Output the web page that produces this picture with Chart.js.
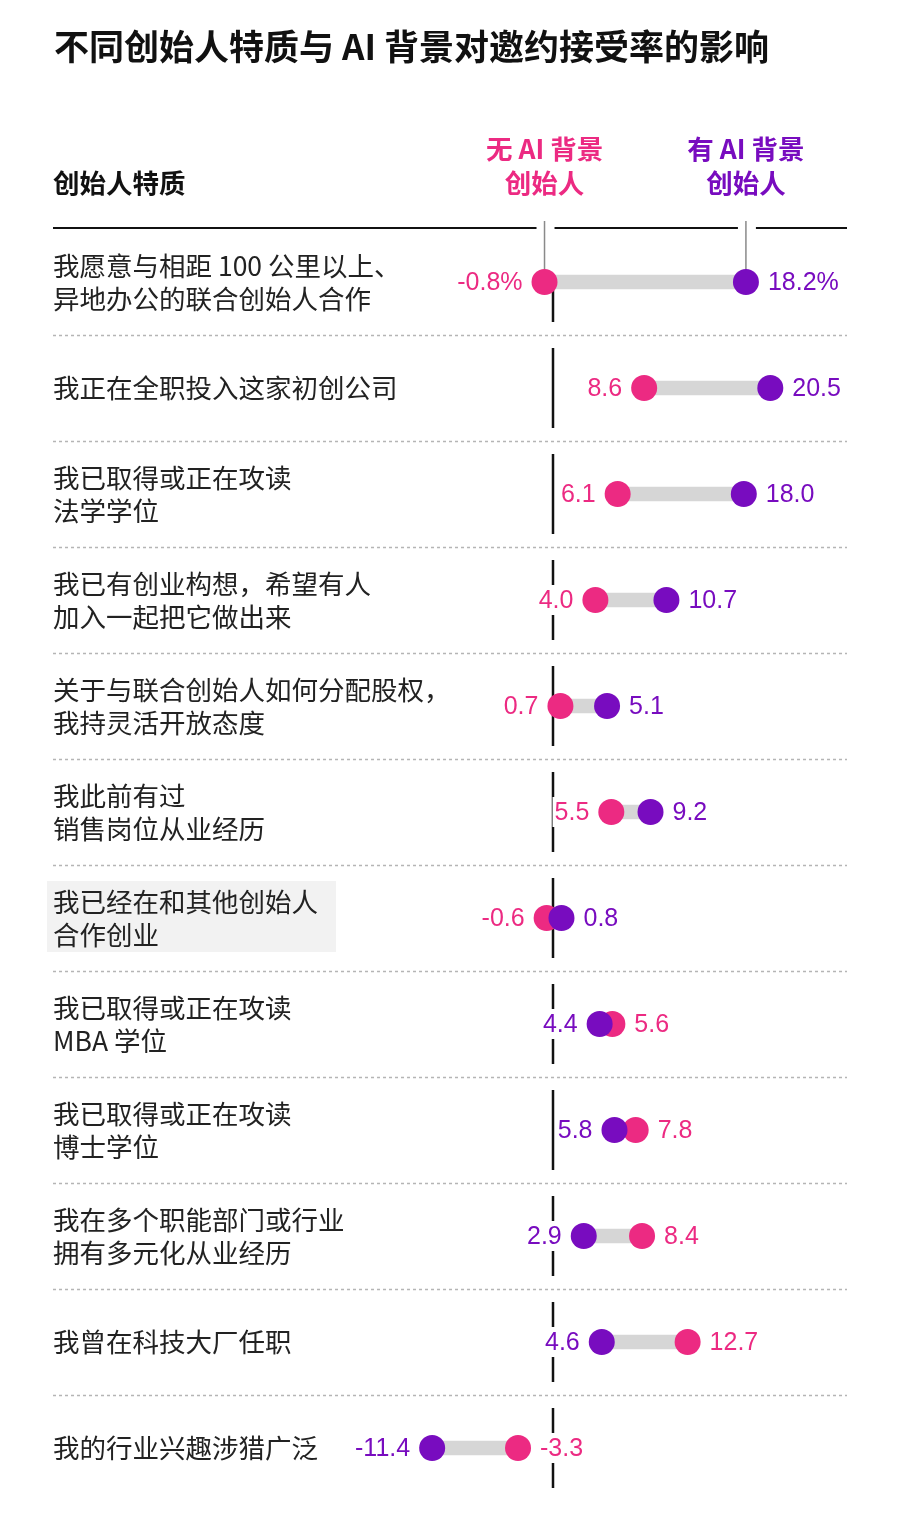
<!DOCTYPE html>
<html>
<head>
<meta charset="utf-8">
<script src="https://cdn.jsdelivr.net/npm/chart.js@4.4.1/dist/chart.umd.min.js"></script>
<style>body{margin:0;background:#fff}</style>
</head>
<body>
<canvas id="grafico" width="900" height="1516"></canvas>
<script>
const titulo = '不同创始人特质与 AI 背景对邀约接受率的影响';
const cabecera = '创始人特质';
const colSinAI = ['无 AI 背景', '创始人'];
const colConAI = ['有 AI 背景', '创始人'];

const traits = [
  ['我愿意与相距 100 公里以上、', '异地办公的联合创始人合作'],
  '我正在全职投入这家初创公司',
  ['我已取得或正在攻读', '法学学位'],
  ['我已有创业构想，希望有人', '加入一起把它做出来'],
  ['关于与联合创始人如何分配股权，', '我持灵活开放态度'],
  ['我此前有过', '销售岗位从业经历'],
  ['我已经在和其他创始人', '合作创业'],
  ['我已取得或正在攻读', 'MBA 学位'],
  ['我已取得或正在攻读', '博士学位'],
  ['我在多个职能部门或行业', '拥有多元化从业经历'],
  '我曾在科技大厂任职',
  '我的行业兴趣涉猎广泛'
];
const noAI   = [-0.8, 8.6, 6.1, 4.0, 0.7, 5.5, -0.6, 5.6, 7.8, 8.4, 12.7, -3.3];
const withAI = [18.2, 20.5, 18.0, 10.7, 5.1, 9.2, 0.8, 4.4, 5.8, 2.9, 4.6, -11.4];

const FONT = "'Noto Sans CJK SC', 'Noto Sans', sans-serif";
const NUMFONT = "'Liberation Sans', 'Noto Sans CJK SC', sans-serif";
const PINK = '#ec2a82';
const PURPLE = '#780cbf';
const AXIS_W = 288;

const decor = {
  id: 'decor',
  beforeDraw(chart) {
    const {ctx, scales: {x, y}} = chart;
    ctx.save();
    ctx.fillStyle = '#fff';
    ctx.fillRect(0, 0, chart.width, chart.height);
    // light box behind the 7th label, as in the picture
    const yc = y.getPixelForValue(6);
    ctx.fillStyle = '#f2f2f2';
    ctx.fillRect(47, yc - 37, 289, 71);

    ctx.textBaseline = 'middle';
    ctx.textAlign = 'left';
    ctx.fillStyle = '#111';
    ctx.font = `bold 35px ${FONT}`;
    ctx.fillText(titulo, 54, 47);
    ctx.font = `bold 26.5px ${FONT}`;
    ctx.fillText(cabecera, 53, 183);

    const x0 = x.getPixelForValue(noAI[0]);
    const x1 = x.getPixelForValue(withAI[0]);
    ctx.textAlign = 'center';
    ctx.fillStyle = PINK;
    ctx.fillText(colSinAI[0], x0, 149);
    ctx.fillText(colSinAI[1], x0, 183);
    ctx.fillStyle = PURPLE;
    ctx.fillText(colConAI[0], x1, 149);
    ctx.fillText(colConAI[1], x1, 183);
    ctx.restore();
  },
  beforeDatasetsDraw(chart) {
    const {ctx, scales: {x, y}} = chart;
    const x0 = x.getPixelForValue(noAI[0]);
    const x1 = x.getPixelForValue(withAI[0]);
    const zero = x.getPixelForValue(0);
    const top0 = y.getPixelForValue(0);
    ctx.save();
    // header rule with gaps
    ctx.strokeStyle = '#111';
    ctx.lineWidth = 2;
    ctx.beginPath();
    [[53, x0 - 8], [x0 + 10, x1 - 8], [x1 + 10, 847]].forEach(([a, b]) => {
      ctx.moveTo(a, 228); ctx.lineTo(b, 228);
    });
    ctx.stroke();
    // marker lines down to first row
    ctx.strokeStyle = '#8a8a8a';
    ctx.lineWidth = 1.5;
    ctx.beginPath();
    ctx.moveTo(x0, 221); ctx.lineTo(x0, top0 - 12);
    ctx.moveTo(x1, 221); ctx.lineTo(x1, top0 - 12);
    ctx.stroke();
    // dotted separators
    ctx.strokeStyle = '#b5b5b5';
    ctx.lineWidth = 1.5;
    ctx.setLineDash([3, 3]);
    ctx.beginPath();
    for (let i = 0; i < traits.length - 1; i++) {
      const yb = Math.round((y.getPixelForValue(i) + y.getPixelForValue(i + 1)) / 2) + 0.5;
      ctx.moveTo(53, yb); ctx.lineTo(847, yb);
    }
    ctx.stroke();
    ctx.setLineDash([]);
    // zero line, one piece per row
    ctx.strokeStyle = '#111';
    ctx.lineWidth = 2.5;
    ctx.beginPath();
    traits.forEach((t, i) => {
      const c = y.getPixelForValue(i);
      ctx.moveTo(zero, i === 0 ? c : c - 40);
      ctx.lineTo(zero, c + 40);
    });
    ctx.stroke();
    ctx.restore();
  },
  afterDatasetsDraw(chart) {
    const {ctx, scales: {x, y}} = chart;
    ctx.save();
    ctx.font = `25px ${NUMFONT}`;
    ctx.textBaseline = 'middle';
    traits.forEach((t, i) => {
      const c = y.getPixelForValue(i);
      const suf = i === 0 ? '%' : '';
      const a = noAI[i], b = withAI[i];
      const lo = Math.min(a, b), hi = Math.max(a, b);
      const loCol = a <= b ? PINK : PURPLE;
      const hiCol = a <= b ? PURPLE : PINK;
      const tLo = lo.toFixed(1) + suf, tHi = hi.toFixed(1) + suf;
      const pxLo = x.getPixelForValue(lo) - 22;
      const pxHi = x.getPixelForValue(hi) + 22;
      const wLo = ctx.measureText(tLo).width;
      const wHi = ctx.measureText(tHi).width;
      ctx.fillStyle = '#fff';
      ctx.fillRect(pxLo - wLo - 2, c - 15, wLo + 4, 30);
      ctx.fillRect(pxHi - 2, c - 15, wHi + 4, 30);
      ctx.textAlign = 'right';
      ctx.fillStyle = loCol;
      ctx.fillText(tLo, pxLo, c + 1);
      ctx.textAlign = 'left';
      ctx.fillStyle = hiCol;
      ctx.fillText(tHi, pxHi, c + 1);
    });
    ctx.restore();
  }
};

new Chart(document.getElementById('grafico'), {
  data: {
    labels: traits,
    datasets: [
      {
        type: 'bar',
        data: noAI.map((v, i) => [v, withAI[i]]),
        backgroundColor: '#d6d6d6',
        barThickness: 14,
        borderSkipped: false,
        order: 3
      },
      {
        type: 'line',
        label: '无 AI 背景创始人',
        data: noAI,
        showLine: false,
        pointRadius: 13,
        pointHoverRadius: 13,
        pointBorderWidth: 0,
        pointBackgroundColor: PINK,
        borderColor: PINK,
        order: 2
      },
      {
        type: 'line',
        label: '有 AI 背景创始人',
        data: withAI,
        showLine: false,
        pointRadius: 13,
        pointHoverRadius: 13,
        pointBorderWidth: 0,
        pointBackgroundColor: PURPLE,
        borderColor: PURPLE,
        order: 1
      }
    ]
  },
  options: {
    indexAxis: 'y',
    responsive: false,
    animation: false,
    layout: { padding: { left: 53, right: 29, top: 229, bottom: 15 } },
    plugins: { legend: { display: false }, tooltip: { enabled: false } },
    scales: {
      x: { type: 'linear', min: -20, max: 30, display: false },
      y: {
        type: 'category',
        offset: true,
        grid: { display: false },
        border: { display: false },
        afterFit: s => { s.width = AXIS_W; s.paddingTop = 0; s.paddingBottom = 0; },
        ticks: {
          autoSkip: false,
          mirror: true,
          crossAlign: 'near',
          padding: -AXIS_W,
          color: '#222',
          font: { family: FONT, size: 26.5, lineHeight: 1.25 }
        }
      }
    }
  },
  plugins: [decor]
});
</script>
</body>
</html>
